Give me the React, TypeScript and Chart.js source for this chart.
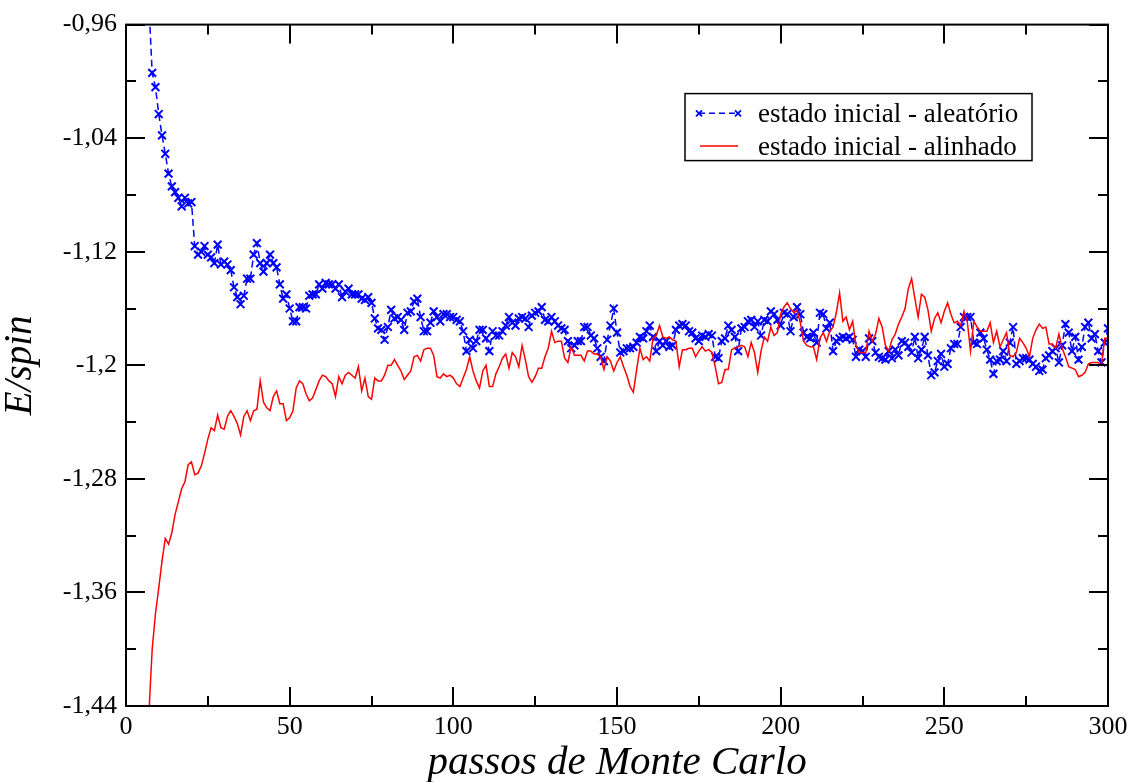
import React, { useEffect, useRef } from 'react';
import { Chart, registerables } from 'chart.js';

Chart.register(...registerables);

const FIRST_STEP = 7;

const aleatorio = [
  -0.946, -0.994, -1.004, -1.023, -1.038, -1.051, -1.065, -1.074, -1.078, -1.082,
  -1.088, -1.082, -1.086, -1.085, -1.116, -1.122, -1.120, -1.116, -1.122, -1.124,
  -1.128, -1.115, -1.129, -1.127, -1.129, -1.133, -1.145, -1.152, -1.157, -1.151,
  -1.139, -1.139, -1.122, -1.114, -1.128, -1.134, -1.128, -1.122, -1.128, -1.131,
  -1.143, -1.153, -1.150, -1.160, -1.169, -1.169, -1.159, -1.159, -1.160, -1.151,
  -1.150, -1.150, -1.143, -1.146, -1.142, -1.143, -1.143, -1.146, -1.143, -1.152,
  -1.148, -1.146, -1.150, -1.150, -1.150, -1.153, -1.154, -1.152, -1.156, -1.167,
  -1.174, -1.175, -1.182, -1.173, -1.161, -1.167, -1.166, -1.168, -1.175, -1.163,
  -1.162, -1.155, -1.153, -1.166, -1.176, -1.176, -1.170, -1.162, -1.166, -1.169,
  -1.164, -1.164, -1.166, -1.166, -1.168, -1.169, -1.176, -1.190, -1.182, -1.188,
  -1.183, -1.175, -1.175, -1.181, -1.190, -1.176, -1.179, -1.179, -1.176, -1.172,
  -1.166, -1.170, -1.172, -1.167, -1.166, -1.167, -1.173, -1.165, -1.163, -1.162,
  -1.159, -1.168, -1.169, -1.166, -1.169, -1.172, -1.174, -1.175, -1.183, -1.188,
  -1.186, -1.183, -1.183, -1.173, -1.173, -1.179, -1.181, -1.188, -1.194, -1.197,
  -1.182, -1.172, -1.160, -1.177, -1.191, -1.190, -1.188, -1.188, -1.187, -1.184,
  -1.180, -1.181, -1.176, -1.172, -1.180, -1.190, -1.183, -1.186, -1.183, -1.187,
  -1.186, -1.175, -1.172, -1.171, -1.172, -1.176, -1.177, -1.181, -1.183, -1.179,
  -1.180, -1.178, -1.179, -1.194, -1.195, -1.183, -1.181, -1.172, -1.175, -1.180,
  -1.190, -1.174, -1.173, -1.169, -1.168, -1.173, -1.169, -1.179, -1.168, -1.169,
  -1.162, -1.164, -1.168, -1.172, -1.163, -1.164, -1.176, -1.166, -1.159, -1.164,
  -1.177, -1.180, -1.181, -1.177, -1.184, -1.163, -1.164, -1.174, -1.170, -1.190,
  -1.183, -1.181, -1.180, -1.181, -1.180, -1.182, -1.194, -1.189, -1.190, -1.194,
  -1.181, -1.183, -1.191, -1.194, -1.195, -1.196, -1.190, -1.195, -1.189, -1.193,
  -1.183, -1.184, -1.187, -1.191, -1.180, -1.195, -1.189, -1.180, -1.193, -1.207,
  -1.205, -1.197, -1.192, -1.201, -1.199, -1.188, -1.185, -1.185, -1.173, -1.166,
  -1.166, -1.166, -1.184, -1.185, -1.177, -1.181, -1.189, -1.196, -1.206, -1.197,
  -1.196, -1.190, -1.197, -1.184, -1.173, -1.199, -1.197, -1.195, -1.195, -1.196,
  -1.199, -1.201, -1.204, -1.203, -1.195, -1.193, -1.190, -1.188, -1.198, -1.186,
  -1.171, -1.177, -1.190, -1.180, -1.196, -1.187, -1.173, -1.170, -1.181, -1.178,
  -1.190, -1.198, -1.184, -1.174,
];

const alinhado = [
  -1.445, -1.400, -1.375, -1.357, -1.338, -1.322, -1.326, -1.318, -1.305, -1.296,
  -1.287, -1.282, -1.270, -1.268, -1.277, -1.276, -1.271, -1.262, -1.252, -1.244,
  -1.246, -1.235, -1.244, -1.245, -1.236, -1.232, -1.236, -1.241, -1.249, -1.236,
  -1.232, -1.239, -1.232, -1.231, -1.211, -1.226, -1.230, -1.232, -1.222, -1.218,
  -1.227, -1.227, -1.239, -1.237, -1.232, -1.216, -1.211, -1.213, -1.220, -1.225,
  -1.223, -1.217, -1.211, -1.207, -1.208, -1.211, -1.213, -1.222, -1.208, -1.213,
  -1.207, -1.205, -1.207, -1.209, -1.201, -1.218, -1.209, -1.222, -1.224, -1.209,
  -1.211, -1.211, -1.207, -1.200, -1.200, -1.196, -1.200, -1.204, -1.210, -1.207,
  -1.204, -1.194, -1.193, -1.197, -1.189, -1.188, -1.188, -1.193, -1.208, -1.209,
  -1.206, -1.208, -1.207, -1.209, -1.213, -1.215, -1.209, -1.203, -1.194, -1.204,
  -1.211, -1.216, -1.204, -1.200, -1.215, -1.215, -1.206, -1.201, -1.195, -1.192,
  -1.202, -1.191, -1.194, -1.201, -1.186, -1.196, -1.208, -1.212, -1.208, -1.202,
  -1.202, -1.194, -1.188, -1.176, -1.184, -1.183, -1.183, -1.195, -1.198, -1.187,
  -1.193, -1.193, -1.193, -1.197, -1.190, -1.190, -1.192, -1.192, -1.194, -1.203,
  -1.194, -1.197, -1.204, -1.198, -1.194, -1.201, -1.207, -1.215, -1.219, -1.203,
  -1.188, -1.196, -1.194, -1.197, -1.181, -1.179, -1.172, -1.180, -1.181, -1.180,
  -1.182, -1.183, -1.201, -1.189, -1.189, -1.188, -1.188, -1.194, -1.190, -1.187,
  -1.190, -1.189, -1.191, -1.201, -1.213, -1.212, -1.203, -1.203, -1.189, -1.188,
  -1.187, -1.186, -1.187, -1.194, -1.184, -1.191, -1.205, -1.190, -1.180, -1.183,
  -1.173, -1.179, -1.177, -1.164, -1.159, -1.156, -1.160, -1.163, -1.161, -1.170,
  -1.183, -1.186, -1.187, -1.187, -1.196, -1.181, -1.177, -1.183, -1.176, -1.173,
  -1.163, -1.149, -1.169, -1.166, -1.175, -1.169, -1.186, -1.191, -1.191, -1.191,
  -1.176, -1.183, -1.178, -1.167, -1.173, -1.186, -1.190, -1.182, -1.178, -1.171,
  -1.166, -1.160, -1.146, -1.139, -1.153, -1.166, -1.150, -1.152, -1.161, -1.176,
  -1.167, -1.163, -1.170, -1.162, -1.156, -1.164, -1.170, -1.169, -1.172, -1.162,
  -1.169, -1.190, -1.169, -1.173, -1.176, -1.176, -1.176, -1.170, -1.184, -1.176,
  -1.187, -1.182, -1.177, -1.193, -1.194, -1.191, -1.181, -1.184, -1.188, -1.194,
  -1.181, -1.175, -1.171, -1.174, -1.173, -1.185, -1.185, -1.188, -1.178, -1.188,
  -1.194, -1.201, -1.202, -1.203, -1.208, -1.207, -1.205, -1.199, -1.198, -1.198,
  -1.198, -1.200, -1.181, -1.181,
];

const xTickValues = [0, 50, 100, 150, 200, 250, 300];
const yTickValues = [-1.44, -1.36, -1.28, -1.2, -1.12, -1.04, -0.96];
const seriesLabels = ['estado inicial - aleatório', 'estado inicial - alinhado'];
const xTitle = 'passos de Monte Carlo';
const yTitle = 'E/spin';

const BLUE = '#0000ff';
const RED = '#ff0000';
const FONT = "'Liberation Serif', 'Times New Roman', serif";

const fmt = (v: number) => String(Math.round(v * 100) / 100).replace('.', ',');

const toPoints = (arr: number[]) => arr.map((v, i) => ({ x: FIRST_STEP + i, y: v }));

const framePlugin = {
  id: 'frameTicks',
  afterDraw(chart: any) {
    const { ctx, chartArea: a, scales } = chart;
    const xs = scales.x;
    const ys = scales.y;
    const MAJOR = 19;
    const MINOR = 10;
    ctx.save();
    ctx.strokeStyle = '#000';
    ctx.lineWidth = 2;
    ctx.setLineDash([]);
    ctx.beginPath();
    const xv: number[] = xs.ticks.map((t: any) => t.value);
    const yv: number[] = ys.ticks.map((t: any) => t.value);
    const xMinor: number[] = [];
    for (let i = 0; i < xv.length - 1; i++) xMinor.push((xv[i] + xv[i + 1]) / 2);
    const yMinor: number[] = [];
    for (let i = 0; i < yv.length - 1; i++) yMinor.push((yv[i] + yv[i + 1]) / 2);
    const vx = (v: number, len: number) => {
      const p = Math.round(xs.getPixelForValue(v));
      ctx.moveTo(p, a.bottom);
      ctx.lineTo(p, a.bottom - len);
      ctx.moveTo(p, a.top);
      ctx.lineTo(p, a.top + len);
    };
    const hy = (v: number, len: number) => {
      const p = Math.round(ys.getPixelForValue(v));
      ctx.moveTo(a.left, p);
      ctx.lineTo(a.left + len, p);
      ctx.moveTo(a.right, p);
      ctx.lineTo(a.right - len, p);
    };
    xv.forEach((v) => vx(v, MAJOR));
    xMinor.forEach((v) => vx(v, MINOR));
    yv.forEach((v) => hy(v, MAJOR));
    yMinor.forEach((v) => hy(v, MINOR));
    ctx.stroke();
    ctx.strokeRect(a.left, a.top, a.right - a.left, a.bottom - a.top);

    // legend
    const boxR = a.right - 76;
    const boxT = a.top + 69;
    const boxW = 347;
    const boxH = 67;
    const boxL = boxR - boxW;
    ctx.fillStyle = '#fff';
    ctx.fillRect(boxL, boxT, boxW, boxH);
    ctx.lineWidth = 1.5;
    ctx.strokeStyle = '#000';
    ctx.strokeRect(boxL, boxT, boxW, boxH);

    const ds = chart.data.datasets;
    const r1 = boxT + 19.7;
    ctx.strokeStyle = ds[0].borderColor;
    ctx.lineWidth = 1.5;
    ctx.setLineDash([6, 4]);
    ctx.beginPath();
    ctx.moveTo(boxL + 14, r1);
    ctx.lineTo(boxL + 53, r1);
    ctx.stroke();
    ctx.setLineDash([]);
    ctx.lineWidth = 1.8;
    const cross = (cx: number, cy: number, r: number) => {
      ctx.beginPath();
      ctx.moveTo(cx - r, cy - r);
      ctx.lineTo(cx + r, cy + r);
      ctx.moveTo(cx - r, cy + r);
      ctx.lineTo(cx + r, cy - r);
      ctx.stroke();
    };
    cross(boxL + 14, r1, 3);
    cross(boxL + 53, r1, 3);
    const r2 = boxT + 52.3;
    ctx.strokeStyle = ds[1].borderColor;
    ctx.lineWidth = 1.5;
    ctx.beginPath();
    ctx.moveTo(boxL + 15, r2);
    ctx.lineTo(boxL + 53, r2);
    ctx.stroke();

    ctx.fillStyle = '#000';
    ctx.font = `27px ${FONT}`;
    ctx.textAlign = 'left';
    ctx.textBaseline = 'alphabetic';
    ctx.fillText(ds[0].label, boxL + 73, boxT + 28.5);
    ctx.fillText(ds[1].label, boxL + 73, boxT + 61);
    ctx.restore();
  },
};

export default function App() {
  const ref = useRef<HTMLCanvasElement | null>(null);

  useEffect(() => {
    if (!ref.current) return;
    const chart = new Chart(ref.current, {
      type: 'line',
      data: {
        datasets: [
          {
            label: seriesLabels[0],
            data: toPoints(aleatorio),
            borderColor: BLUE,
            backgroundColor: BLUE,
            borderWidth: 1.5,
            borderDash: [7, 4],
            pointStyle: 'crossRot',
            pointRadius: 5.5,
            pointBorderWidth: 2,
            pointBorderColor: BLUE,
            pointHoverRadius: 5.5,
            tension: 0,
            fill: false,
            order: 1,
          },
          {
            label: seriesLabels[1],
            data: toPoints(alinhado),
            borderColor: RED,
            backgroundColor: RED,
            borderWidth: 1.5,
            pointRadius: 0,
            pointHoverRadius: 0,
            tension: 0,
            fill: false,
            order: 0,
          },
        ],
      },
      options: {
        responsive: false,
        animation: false,
        events: [],
        layout: { padding: { top: 22, right: 28, left: 0, bottom: 0 } },
        plugins: {
          legend: { display: false },
          tooltip: { enabled: false },
          title: { display: false },
        },
        scales: {
          x: {
            type: 'linear',
            min: 0,
            max: 300,
            afterBuildTicks: (scale: any) => {
              scale.ticks = xTickValues.map((v) => ({ value: v }));
            },
            afterFit: (scale: any) => {
              scale.height = 76;
            },
            grid: { display: false, drawTicks: false, tickLength: 0 },
            border: { display: false },
            ticks: {
              color: '#000',
              padding: 6,
              maxRotation: 0,
              autoSkip: false,
              font: { family: FONT, size: 26 },
              callback: (v: any) => fmt(Number(v)),
            },
            title: {
              display: true,
              text: xTitle,
              color: '#000',
              font: { family: FONT, size: 41, style: 'italic', lineHeight: 0.93 },
              padding: { top: 0, bottom: 0 },
            },
          },
          y: {
            type: 'linear',
            min: -1.44,
            max: -0.96,
            afterBuildTicks: (scale: any) => {
              scale.ticks = yTickValues.map((v) => ({ value: v }));
            },
            afterFit: (scale: any) => {
              scale.width = 126;
            },
            grid: { display: false, drawTicks: false, tickLength: 0 },
            border: { display: false },
            ticks: {
              color: '#000',
              padding: 9,
              autoSkip: false,
              font: { family: FONT, size: 26 },
              callback: (v: any) => fmt(Number(v)),
            },
            title: {
              display: true,
              text: yTitle,
              color: '#000',
              font: { family: FONT, size: 39, style: 'italic', lineHeight: 1 },
              padding: { top: 1, bottom: 0 },
            },
          },
        },
      },
      plugins: [framePlugin],
    } as any);
    return () => chart.destroy();
  }, []);

  return (
    <div style={{ position: 'fixed', left: 0, top: 0, width: 1136, height: 782, background: '#fff' }}>
      <canvas ref={ref} width={1136} height={782} style={{ display: 'block', width: 1136, height: 782 }} />
    </div>
  );
}
